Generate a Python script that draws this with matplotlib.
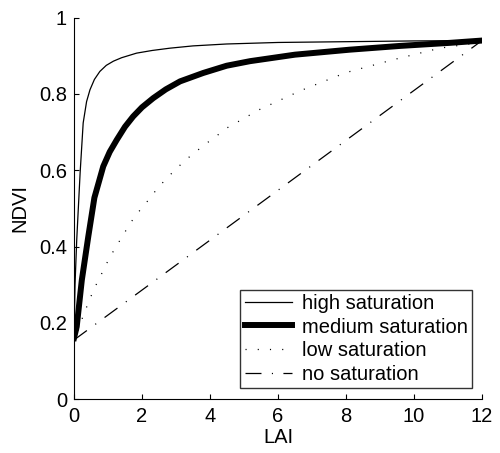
import matplotlib
matplotlib.use("Agg")
import matplotlib.pyplot as plt

# ---------- data ----------
lai_high = [0.0, 0.03, 0.08, 0.18, 0.27, 0.37, 0.47, 0.6, 0.76, 0.95, 1.16, 1.4, 1.84, 2.3, 2.82, 3.5, 4.49, 6.0, 8.0, 10.0, 12.0]
ndvi_high = [0.16, 0.30, 0.417, 0.593, 0.724, 0.78, 0.811, 0.838, 0.859, 0.875, 0.886, 0.895, 0.907, 0.914, 0.92, 0.926, 0.931, 0.935, 0.937, 0.939, 0.94]

lai_med = [0.0, 0.08, 0.23, 0.42, 0.6, 0.86, 1.05, 1.26, 1.5, 1.74, 2.0, 2.33, 2.7, 3.12, 3.8, 4.49, 5.18, 6.5, 8.1, 9.6, 11.06, 12.0]
ndvi_med = [0.16, 0.19, 0.312, 0.426, 0.528, 0.61, 0.648, 0.68, 0.714, 0.741, 0.765, 0.789, 0.812, 0.833, 0.855, 0.874, 0.886, 0.903, 0.916, 0.926, 0.934, 0.94]

lai_low = [0.0, 0.18, 0.29, 0.44, 0.57, 0.74, 0.89, 1.06, 1.24, 1.43, 1.63, 1.82, 2.06, 2.28, 2.51,
           2.75, 3.02, 3.31, 3.59, 3.87, 4.17, 4.44, 5.08, 5.38, 6.7, 8.0, 9.4, 10.76, 11.85, 12.0]
ndvi_low = [0.15, 0.194, 0.225, 0.255, 0.286, 0.315, 0.343, 0.373, 0.40, 0.428, 0.457, 0.483, 0.507, 0.533, 0.558,
            0.581, 0.605, 0.629, 0.649, 0.669, 0.688, 0.708, 0.74, 0.756, 0.81, 0.856, 0.89, 0.92, 0.934, 0.94]

lai_none = [0.0, 12.0]
ndvi_none = [0.155, 0.94]

labels = ["high saturation", "medium saturation", "low saturation", "no saturation"]

plt.rcParams["font.family"] = ["Liberation Sans", "DejaVu Sans"]
plt.rcParams["lines.scale_dashes"] = False

FS = 14.5

fig = plt.figure(figsize=(5.0, 4.53), dpi=100)
ax = fig.add_axes([0.148, 0.119, 0.816, 0.842])

ax.plot(lai_high, ndvi_high, color="k", lw=0.9, label=labels[0])
ax.plot(lai_med, ndvi_med, color="k", lw=4.3, label=labels[1])
ax.plot(lai_low, ndvi_low, color="k", lw=0.9, dashes=(0.8, 8.0), label=labels[2])
ax.plot(lai_none, ndvi_none, color="k", lw=0.9, dashes=(11.5, 7.5, 0.8, 7.5), label=labels[3])

ax.set_xlim(0, 12)
ax.set_ylim(0, 1)
ax.set_xticks([0, 2, 4, 6, 8, 10, 12])
ax.set_yticks([0, 0.2, 0.4, 0.6, 0.8, 1.0])
ax.set_yticklabels(["0", "0.2", "0.4", "0.6", "0.8", "1"])
ax.set_xlabel("LAI", fontsize=FS, labelpad=1)
ax.set_ylabel("NDVI", fontsize=FS, labelpad=7)

ax.spines["top"].set_visible(False)
ax.spines["right"].set_visible(False)
for s in ["left", "bottom"]:
    ax.spines[s].set_linewidth(0.8)
ax.tick_params(direction="in", length=3.5, width=0.8, labelsize=FS)
ax.tick_params(axis="x", pad=6)
ax.tick_params(axis="y", pad=5)

leg = ax.legend(loc="lower right", bbox_to_anchor=(0.975, 0.029), borderaxespad=0,
                fontsize=FS, frameon=True, fancybox=False, edgecolor="k",
                handlelength=2.35, handletextpad=0.5, labelspacing=0.235,
                borderpad=0.2)
leg.get_frame().set_linewidth(1.0)

fig.savefig("out.png", dpi=100)
